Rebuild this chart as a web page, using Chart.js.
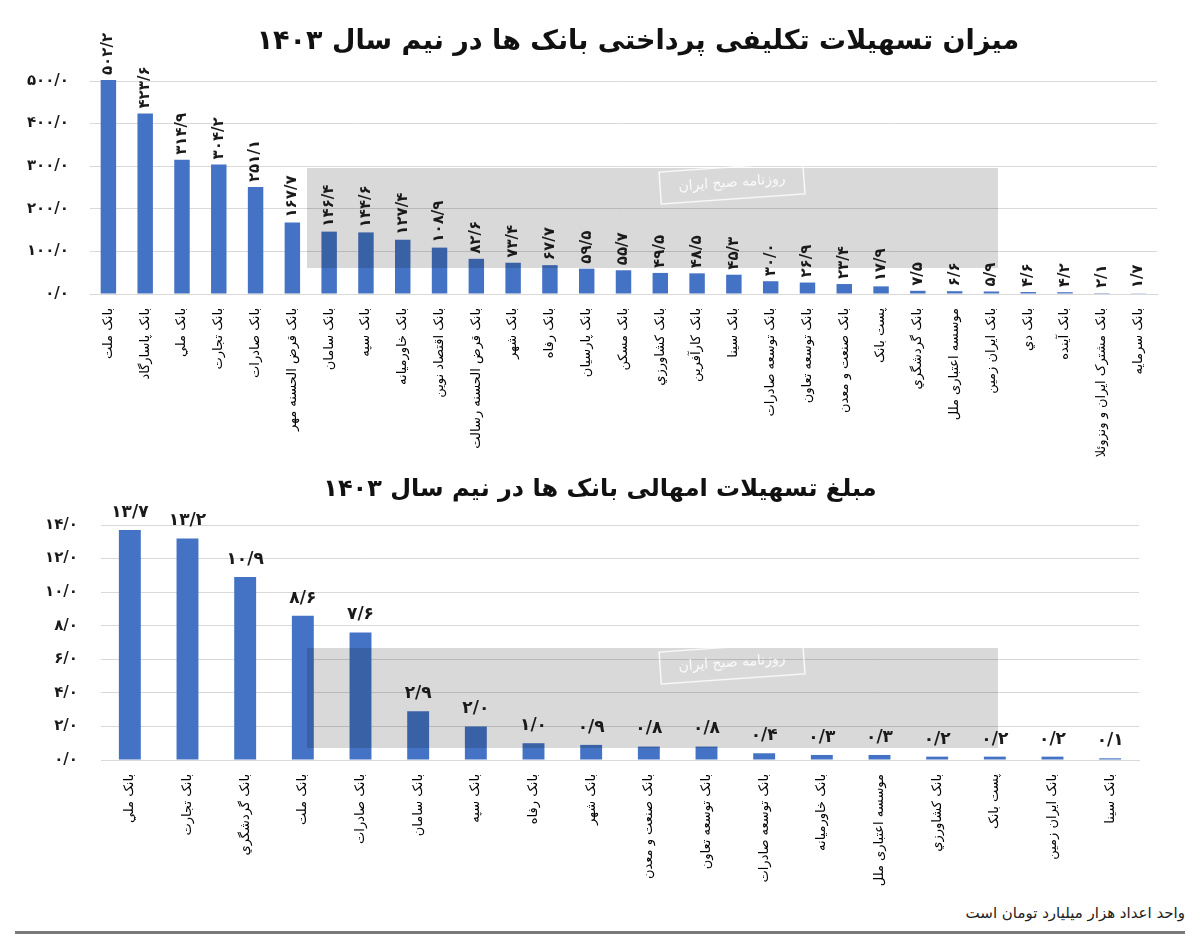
<!DOCTYPE html>
<html>
<head>
<meta charset="utf-8">
<script src="https://cdn.jsdelivr.net/npm/chart.js@4.4.1/dist/chart.umd.min.js"></script>
<style>
  body { margin: 0; background: #fff; width: 1200px; height: 940px; position: relative; overflow: hidden; font-family: "DejaVu Sans", sans-serif; }
  canvas { position: absolute; left: 0; }
  #c1 { top: 0; }
  #c2 { top: 460px; }
  .title { position: absolute; direction: rtl; text-align: center; font-weight: bold; color: #111; white-space: nowrap; }
  #t1 { left: 238px; width: 800px; top: 24px; font-size: 27px; }
  #t2 { left: 200px; width: 800px; top: 474px; font-size: 24px; }
  #note { position: absolute; right: 15px; top: 904px; font-size: 15px; direction: rtl; color: #222; }
  #rule { position: absolute; left: 15px; top: 931px; width: 1170px; height: 3px; background: #7a7a7a; }
</style>
</head>
<body>
<canvas id="c1" width="1200" height="460"></canvas>
<canvas id="c2" width="1200" height="440"></canvas>
<div class="title" id="t1">میزان تسهیلات تکلیفی پرداختی بانک ها در نیم سال ۱۴۰۳</div>
<div class="title" id="t2">مبلغ تسهیلات امهالی بانک ها در نیم سال ۱۴۰۳</div>
<div id="note">واحد اعداد هزار میلیارد تومان است</div>
<div id="rule"></div>
<script>
// data (thousand billion toman)
const topBanks = [
  "بانک ملت", "بانک پاسارگاد", "بانک ملي", "بانک تجارت", "بانک صادرات",
  "بانک قرض الحسنه مهر", "بانک سامان", "بانک سپه", "بانک خاورمیانه", "بانک اقتصاد نوین",
  "بانک قرض الحسنه رسالت", "بانک شهر", "بانک رفاه", "بانک پارسیان", "بانک مسکن",
  "بانک کشاورزي", "بانک کارآفرین", "بانک سینا", "بانک توسعه صادرات", "بانک توسعه تعاون",
  "بانک صنعت و معدن", "پست بانک", "بانک گردشگري", "موسسه اعتباری ملل", "بانک ایران زمین",
  "بانک دي", "بانک آینده", "بانک مشترک ایران و ونزوئلا", "بانک سرمایه"
];
const topValues = [
  502.2, 423.6, 314.9, 304.2, 251.1,
  167.7, 146.4, 144.6, 127.4, 108.9,
  82.6, 73.4, 67.7, 59.5, 55.7,
  49.5, 48.5, 45.3, 30.0, 26.9,
  23.4, 17.9, 7.5, 6.6, 5.9,
  4.6, 4.2, 2.1, 1.7
];
const topTicks = [0, 100, 200, 300, 400, 500];

const bottomBanks = [
  "بانک ملي", "بانک تجارت", "بانک گردشگري", "بانک ملت", "بانک صادرات",
  "بانک سامان", "بانک سپه", "بانک رفاه", "بانک شهر", "بانک صنعت و معدن",
  "بانک توسعه تعاون", "بانک توسعه صادرات", "بانک خاورمیانه", "موسسه اعتباری ملل",
  "بانک کشاورزي", "پست بانک", "بانک ایران زمین", "بانک سینا"
];
const bottomValues = [
  13.7, 13.2, 10.9, 8.6, 7.6,
  2.9, 2.0, 1.0, 0.9, 0.8,
  0.8, 0.4, 0.3, 0.3,
  0.2, 0.2, 0.2, 0.1
];
const bottomTicks = [0, 2, 4, 6, 8, 10, 12, 14];

const BLUE = "#4472C4";
const FA = "۰۱۲۳۴۵۶۷۸۹";

function toFa(v) {
  return v.toFixed(1).replace(".", "/").replace(/[0-9]/g, d => FA[d]);
}

// gray watermark box from the original picture
const watermark = {
  id: "watermark",
  afterDatasetsDraw(chart, args, opts) {
    const ctx = chart.ctx;
    ctx.save();
    ctx.fillStyle = "rgba(0,0,0,0.15)";
    ctx.fillRect(opts.x, opts.y, opts.w, opts.h);
    ctx.translate(opts.x + 425, opts.y + 15);
    ctx.rotate(-0.07);
    ctx.strokeStyle = "rgba(255,255,255,0.8)";
    ctx.lineWidth = 1.5;
    ctx.strokeRect(-72, -16, 144, 32);
    ctx.fillStyle = "rgba(255,255,255,0.85)";
    ctx.font = "14px 'DejaVu Sans'";
    ctx.textAlign = "center";
    ctx.textBaseline = "middle";
    ctx.fillText("روزنامه صبح ایران", 0, 0);
    ctx.restore();
  }
};

const valueLabels = {
  id: "valueLabels",
  afterDatasetsDraw(chart, args, opts) {
    const ctx = chart.ctx;
    const meta = chart.getDatasetMeta(0);
    const vals = chart.data.datasets[0].data;
    ctx.save();
    ctx.fillStyle = "#1a1a1a";
    ctx.font = opts.font;
    meta.data.forEach((bar, i) => {
      const txt = toFa(vals[i]);
      if (opts.rotate) {
        ctx.save();
        ctx.translate(bar.x, bar.y - opts.offset);
        ctx.rotate(-Math.PI / 2);
        ctx.textAlign = "left";
        ctx.textBaseline = "middle";
        ctx.fillText(txt, 0, 0);
        ctx.restore();
      } else {
        ctx.textAlign = "center";
        ctx.textBaseline = "bottom";
        ctx.fillText(txt, bar.x, bar.y - opts.offset);
      }
    });
    ctx.restore();
  }
};

function makeChart(id, labels, values, ticks, o) {
  return new Chart(document.getElementById(id), {
    type: "bar",
    data: {
      labels: labels,
      datasets: [{
        data: values,
        backgroundColor: BLUE,
        categoryPercentage: 1,
        barPercentage: o.barPct,
        clip: false
      }]
    },
    options: {
      responsive: false,
      animation: false,
      layout: { padding: { top: o.top, left: 0, right: o.right, bottom: 0 } },
      plugins: {
        legend: { display: false },
        tooltip: { enabled: false },
        valueLabels: o.labels,
        watermark: o.mark
      },
      scales: {
        x: {
          grid: { display: false },
          border: { color: "#d9d9d9" },
          ticks: {
            autoSkip: false,
            minRotation: 90,
            maxRotation: 90,
            padding: 6,
            color: "#000",
            font: { family: "DejaVu Sans", size: 13 }
          },
          afterFit: s => { s.height = o.xHeight; }
        },
        y: {
          min: 0,
          max: ticks[ticks.length - 1],
          grid: { color: "#d9d9d9", drawTicks: false },
          border: { display: false },
          afterBuildTicks: s => { s.ticks = ticks.map(v => ({ value: v })); },
          ticks: {
            padding: o.tickPad,
            color: "#1a1a1a",
            font: { family: "DejaVu Sans", size: 15, weight: "bold" },
            callback: v => toFa(v)
          },
          afterFit: s => { s.width = o.yWidth; }
        }
      }
    },
    plugins: [watermark, valueLabels]
  });
}

makeChart("c1", topBanks, topValues, topTicks, {
  barPct: 0.42, top: 81, right: 43, xHeight: 166, yWidth: 90, tickPad: 21,
  labels: { rotate: true, offset: 5, font: "bold 15px 'DejaVu Sans'" },
  mark: { x: 307, y: 168, w: 691, h: 100 }
});

makeChart("c2", bottomBanks, bottomValues, bottomTicks, {
  barPct: 0.38, top: 65, right: 61, xHeight: 140, yWidth: 101, tickPad: 23,
  labels: { rotate: false, offset: 9, font: "bold 17px 'DejaVu Sans'" },
  mark: { x: 307, y: 188, w: 691, h: 100 }
});
</script>
</body>
</html>
